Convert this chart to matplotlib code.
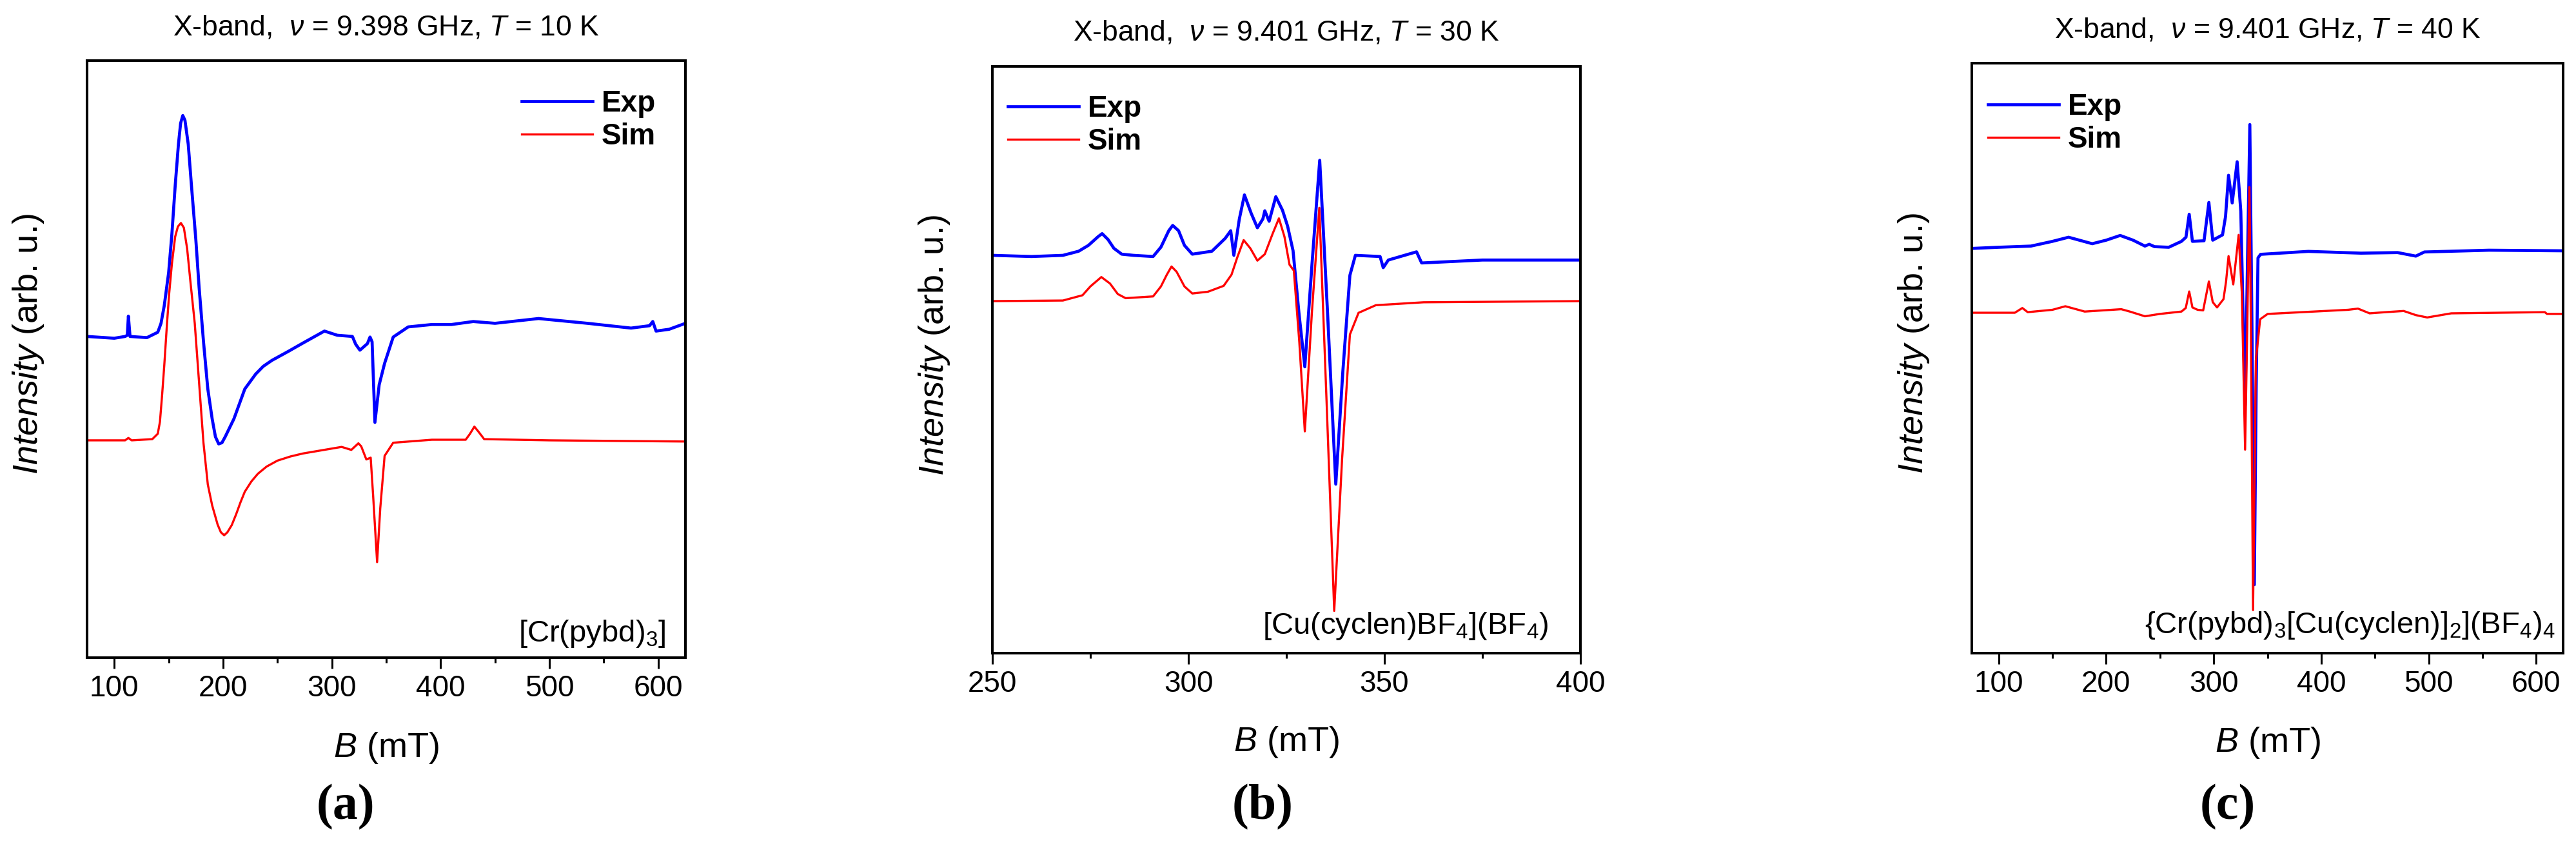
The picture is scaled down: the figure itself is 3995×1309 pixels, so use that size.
import matplotlib
matplotlib.use('Agg')
import matplotlib.pyplot as plt
from matplotlib.ticker import MultipleLocator

plt.rcParams['font.family'] = ['Liberation Sans', 'DejaVu Sans']
plt.rcParams['mathtext.fontset'] = 'custom'
plt.rcParams['mathtext.rm'] = 'Liberation Sans'
plt.rcParams['mathtext.it'] = 'Liberation Sans:italic'
plt.rcParams['mathtext.bf'] = 'Liberation Sans:bold'

# ---- panel (a): [Cr(pybd)3] (arb. u., 0-100 of axis height)
a_b_exp = [75, 100, 110, 112, 113, 114.5, 130, 140, 143, 146, 150, 153, 156, 159, 161, 163, 165,
           168, 171, 175, 178, 182, 186, 190, 193, 196, 199, 202, 206, 210, 215, 220, 230, 237,
           245, 260, 273.5, 293.2, 305, 318.9, 321.9, 325.8, 332.7, 335.1, 337, 339.6, 343.5,
           348.5, 356.4, 370.2, 392, 410, 430, 450, 490, 535, 575, 592, 595, 598, 610, 625]
a_exp = [53.8, 53.5, 53.8, 54, 57.2, 53.8, 53.6, 54.5, 56, 59, 64.5, 71, 79, 86, 89.5, 90.8, 90,
         86, 79, 70, 62, 53, 45, 40, 37, 35.8, 36, 37, 38.5, 40, 42.5, 45, 47.5, 48.8,
         49.8, 51.3, 52.7, 54.7, 54, 53.8, 52.5, 51.5, 52.6, 53.7, 52.9, 39.4, 45.7,
         49.3, 53.7, 55.4, 55.8, 55.8, 56.3, 56, 56.8, 56, 55.2, 55.6, 56.3, 54.7, 55, 56]
a_b_sim = [75, 110, 113, 116, 135, 140, 142, 144, 146, 148.5, 150.5, 153, 156, 158.5, 161.3, 164,
           167, 170, 174, 178, 182, 186, 190, 195, 198, 201, 204, 208, 212, 216, 220, 226, 232,
           240, 250, 262, 273.5, 309, 317.9, 324.4, 327, 331.7, 335.7, 338, 341.6, 344.5, 348.5,
           356.4, 392, 423, 427, 431, 435, 440, 500, 625]
a_sim = [36.4, 36.4, 36.8, 36.4, 36.6, 37.5, 39.5, 44, 49, 56, 61, 66, 70.5, 72.2, 72.8, 72,
         68.5, 63, 56, 46, 36, 29, 25.5, 22.3, 21, 20.5, 21, 22.2, 24, 26, 27.8, 29.5, 30.8,
         32, 33, 33.7, 34.2, 35.3, 34.8, 35.9, 35.4, 33.2, 33.5, 27, 16, 25, 33.8,
         36, 36.5, 36.5, 37.5, 38.7, 37.8, 36.6, 36.4, 36.2]

# ---- panel (b): [Cu(cyclen)BF4](BF4)
b_b_exp = [250, 260, 268, 272, 274.5, 277, 278, 279.5, 281, 283, 286, 291, 293, 295, 296, 297.5,
           299, 301, 306, 309.4, 310.8, 311.6, 313, 314.3, 316, 317.6, 319, 319.5, 320.6, 322.3,
           324, 325.3, 326.7, 328.2, 329.7, 331.5, 333.5, 335.5, 337.6, 339.4, 341.2, 342.6,
           348.9, 349.7, 351, 358.2, 359.5, 375, 400]
b_exp = [67.8, 67.6, 67.8, 68.5, 69.5, 71, 71.5, 70.5, 69, 68, 67.8, 67.6, 69.2, 72, 72.9, 72,
         69.5, 68, 68.5, 70.7, 72, 67.8, 74, 78.1, 75, 72.5, 74, 75.4, 73.6, 77.8,
         75.5, 72.8, 68.6, 58, 48.8, 66, 84, 58, 28.8, 48, 64.4, 67.8,
         67.6, 65.7, 67, 68.4, 66.5, 67, 67]
b_b_sim = [250, 268, 273, 275, 277.8, 280, 282, 284, 291, 293, 294.5, 295.7, 297, 299, 301, 305,
           309, 311, 312.5, 314.1, 315.8, 317.6, 319.5, 321.5, 323.1, 324.5, 325.8, 326.9, 328.3,
           329.7, 331.5, 333.4, 335.3, 337.2, 339.2, 341.2, 343.4, 347.8, 360, 400]
b_sim = [60, 60.1, 61, 62.5, 64.1, 63, 61.2, 60.5, 60.8, 62.5, 64.5, 65.9, 65, 62.5, 61.3, 61.6,
         62.6, 64.5, 67.5, 70.4, 69, 66.9, 68, 71.5, 74.1, 71, 66.2, 65.2, 53,
         37.8, 58, 75.9, 42, 7.2, 33, 54.3, 58, 59.3, 59.8, 60]

# ---- panel (c): {Cr(pybd)3[Cu(cyclen)]2}(BF4)4
c_b_exp = [75, 100, 130, 150, 165, 187, 200, 213, 225, 236, 240, 245, 258.2, 270, 274.2, 277.2,
           280.2, 291, 295.5, 299.1, 308.2, 311, 313.8, 317.2, 321.8, 325.2, 329.2, 331.3, 333.6,
           335.6, 337.8, 339.5, 341.2, 343.6, 388, 437, 471, 488, 496, 556, 625]
c_exp = [68.6, 68.8, 69, 69.8, 70.5, 69.4, 70, 70.8, 70, 69, 69.3, 68.9, 68.8, 69.8, 70.5, 74.4,
         69.8, 69.9, 76.4, 70, 70.9, 74, 81, 76.3, 83.3, 74.9, 42, 65, 89.6,
         55, 11.6, 45, 67, 67.6, 68.1, 67.8, 67.9, 67.3, 68, 68.3, 68.2]
c_b_sim = [75, 115, 122, 127, 150, 162, 180, 214, 222, 236, 250, 270, 274, 277.2, 280.2, 285,
           290.2, 295.5, 299.1, 303.1, 309.1, 311.5, 313.8, 318.2, 323.2, 326.2, 329.2, 331.2,
           333.2, 334.6, 336.6, 339.2, 343.2, 350.2, 425, 434.2, 445, 460, 476.7, 488, 498.6, 521,
           608, 610, 625]
c_sim = [57.7, 57.7, 58.5, 57.8, 58.2, 58.8, 57.9, 58.3, 57.9, 57.1, 57.5, 57.9, 58.5, 61.3, 58.6, 58.2,
         58.1, 63, 59.5, 58.6, 60, 63, 67.3, 62.5, 70.9, 60.9, 34.5, 55,
         79, 55.2, 7.3, 49.6, 56.6, 57.5, 58.2, 58.4, 57.6, 57.8, 58, 57.3, 56.9, 57.6,
         57.8, 57.5, 57.5]

titles = [r'X-band,  $\nu$ = 9.398 GHz, $T$ = 10 K',
          r'X-band,  $\nu$ = 9.401 GHz, $T$ = 30 K',
          r'X-band,  $\nu$ = 9.401 GHz, $T$ = 40 K']
compounds = [r'[Cr(pybd)$_3$]',
             r'[Cu(cyclen)BF$_4$](BF$_4$)',
             r'{Cr(pybd)$_3$[Cu(cyclen)]$_2$](BF$_4$)$_4$']
letters = ['(a)', '(b)', '(c)']

W, H = 3995, 1309
fig = plt.figure(figsize=(W / 100, H / 100), dpi=100)


def add_panel(left, top, right, bottom):
    return fig.add_axes([left / W, 1 - bottom / H, (right - left) / W, (bottom - top) / H])


def style_panel(ax, xlim, major, title, compound, comp_xy, leg_xy, h_px):
    ax.set_xlim(*xlim)
    ax.set_ylim(0, 100)
    ax.set_yticks([])
    ax.xaxis.set_major_locator(MultipleLocator(major))
    ax.xaxis.set_minor_locator(MultipleLocator(major / 2))
    ax.tick_params(axis='x', which='major', direction='out', length=12, width=2.2, pad=6.5,
                   labelsize=33)
    ax.tick_params(axis='x', which='minor', direction='out', length=6, width=2.2)
    for sp in ax.spines.values():
        sp.set_linewidth(2.9)
    ax.set_xlabel(r'$B$ (mT)', fontsize=39)
    ax.xaxis.set_label_coords(0.5, -0.122)
    ax.set_ylabel(r'$Intensity$ (arb. u.)', fontsize=39)
    ax.yaxis.set_label_coords(-0.069, 0.525)
    ax.text(0.5, 1 + 40 / h_px, title, transform=ax.transAxes, ha='center', va='baseline',
            fontsize=32)
    ax.text(comp_xy[0], comp_xy[1], compound, transform=ax.transAxes, ha='right',
            va='baseline', fontsize=34)
    ax.legend(loc='upper left', bbox_to_anchor=leg_xy, frameon=False,
              prop={'weight': 'bold', 'size': 33}, handlelength=2.4, handletextpad=0.3,
              labelspacing=0.15, borderpad=0, borderaxespad=0)


ax_a = add_panel(135, 94, 1063, 1020)
ax_a.plot(a_b_exp, a_exp, color='#0000ff', lw=3.4, label='Exp')
ax_a.plot(a_b_sim, a_sim, color='#ff0000', lw=2.4, label='Sim')
style_panel(ax_a, (75, 625), 100, titles[0], compounds[0], (0.967, 0.027), (0.726, 0.951), 926)

ax_b = add_panel(1539, 103, 2451, 1013)
ax_b.plot(b_b_exp, b_exp, color='#0000ff', lw=3.4, label='Exp')
ax_b.plot(b_b_sim, b_sim, color='#ff0000', lw=2.4, label='Sim')
style_panel(ax_b, (250, 400), 50, titles[1], compounds[1], (0.946, 0.033), (0.026, 0.952), 910)

ax_c = add_panel(3058, 98, 3975, 1013)
ax_c.plot(c_b_exp, c_exp, color='#0000ff', lw=3.4, label='Exp')
ax_c.plot(c_b_sim, c_sim, color='#ff0000', lw=2.4, label='Sim')
style_panel(ax_c, (75, 625), 100, titles[2], compounds[2], (0.987, 0.034), (0.027, 0.950), 915)

for x_px, letter in zip([536, 1958, 3455], letters):
    fig.text(x_px / W, 1 - 1252 / H, letter, ha='center', va='center', fontsize=56,
             fontweight='bold', family='Liberation Serif')

fig.savefig('out.png', dpi=100, facecolor='white')
